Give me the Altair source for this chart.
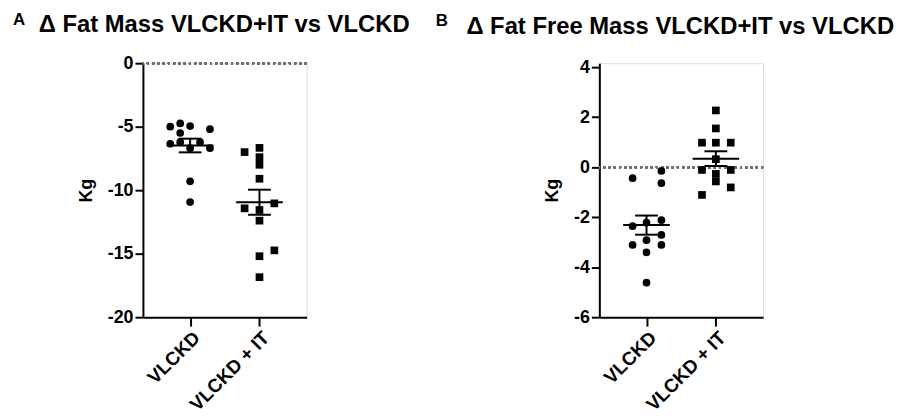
import altair as alt
import pandas as pd

FONT = "Liberation Sans"
groups = ["VLCKD", "VLCKD + IT"]

# Panel A: change in fat mass (kg)
fm_vlckd = [-5.0, -4.74, -4.95, -5.2, -5.5, -6.35, -6.22, -6.69, -6.22, -6.69, -9.3, -10.94]
fm_vlckd_jit = [-20, -10, 0, 20, -10, -20, -10, 0, 10, 20, 0, 0]
fm_it = [-7.0, -6.67, -7.4, -8.0, -9.1, -11.43, -11.04, -11.56, -12.4, -14.74, -15.2, -16.85]
fm_it_jit = [-15, 0, 0, 0, 0, -15, 15, 0, 0, 15, 0, 0]

# Panel B: change in fat free mass (kg)
ffm_vlckd = [-0.44, -0.15, -0.64, -2.36, -2.22, -2.12, -2.71, -2.92, -3.11, -3.11, -3.41, -4.62]
ffm_vlckd_jit = [-14, 15, 15, -14, 0, 15, 15, 0, -14, 15, 0, 0]
ffm_it = [2.27, 1.55, 0.98, 0.98, 0.98, 0.32, -0.11, -0.27, -0.11, -0.57, -0.81, -1.11]
ffm_it_jit = [0, 0, -14, 0, 15, 0, -14, 0, 15, 0, 15, -14]

title_a = "Δ Fat Mass VLCKD+IT vs VLCKD"
title_b = "Δ Fat Free Mass VLCKD+IT vs VLCKD"
ticks_a = [0, -5, -10, -15, -20]
ticks_b = [4, 2, 0, -2, -4, -6]


def frame(a, b, ja, jb):
    return pd.DataFrame({
        "g": [groups[0]] * len(a) + [groups[1]] * len(b),
        "v": a + b,
        "j": ja + jb,
    })


def panel(df, title, letter, dom, ticks, tx, ty, lx, ly):
    base = alt.Chart(df)
    xaxis = alt.Axis(title=None, labelAngle=-45, labelFont=FONT, labelFontSize=19,
                     labelFontWeight="bold", labelColor="black", labelPadding=2,
                     tickSize=9, tickWidth=2, tickColor="black",
                     domainWidth=2, domainColor="black", grid=False)
    xenc = alt.X("g:N", scale=alt.Scale(type="point", domain=groups, padding=0.68), axis=xaxis)
    yscale = alt.Scale(domain=dom, nice=False, zero=False)
    yaxis = alt.Axis(title="Kg", values=ticks, labelExpr="datum.value + ''",
                     labelFont=FONT, labelFontSize=18,
                     labelFontWeight="bold", labelColor="black", labelPadding=2,
                     tickSize=8, tickWidth=2, tickColor="black",
                     domainWidth=2, domainColor="black", grid=False,
                     titleFont=FONT, titleFontSize=18, titleFontWeight="bold",
                     titleColor="black", titlePadding=12)

    zero = base.mark_rule(color="#707070", strokeDash=[2, 3.3], strokeWidth=2).encode(
        y=alt.Y(datum=0, scale=yscale, axis=yaxis)
    )
    pts = base.mark_point(filled=True, opacity=1, color="black", size=60).encode(
        x=xenc,
        xOffset=alt.XOffset("j:Q", scale=None),
        y=alt.Y("v:Q", scale=yscale, axis=yaxis),
        shape=alt.Shape("g:N", scale=alt.Scale(domain=groups, range=["circle", "square"]), legend=None),
    )
    stats = base.transform_aggregate(
        m="mean(v)", s="stderr(v)", groupby=["g"]
    ).transform_calculate(lo="datum.m - datum.s", hi="datum.m + datum.s")
    mean_tick = stats.mark_tick(color="black", thickness=2, size=47, opacity=1).encode(
        x=xenc, y=alt.Y("m:Q", scale=yscale, axis=yaxis)
    )
    sem_rule = stats.mark_rule(color="black", strokeWidth=2).encode(
        x=xenc, y=alt.Y("lo:Q", scale=yscale, axis=yaxis), y2="hi:Q"
    )
    caps = stats.transform_fold(["lo", "hi"], as_=["k", "c"]).mark_tick(
        color="black", thickness=2, size=23, opacity=1
    ).encode(x=xenc, y=alt.Y("c:Q", scale=yscale, axis=yaxis))

    ttl = alt.Chart(pd.DataFrame({"t": [title]})).mark_text(
        font=FONT, fontSize=24, fontWeight="bold", color="black", align="left", baseline="alphabetic"
    ).encode(text="t:N", x=alt.value(tx), y=alt.value(ty))
    let = alt.Chart(pd.DataFrame({"t": [letter]})).mark_text(
        font=FONT, fontSize=17, fontWeight="bold", color="black", align="left", baseline="alphabetic"
    ).encode(text="t:N", x=alt.value(lx), y=alt.value(ly))

    return alt.layer(zero, pts, sem_rule, caps, mean_tick, ttl, let).properties(width=165, height=256)


pa = panel(frame(fm_vlckd, fm_it, fm_vlckd_jit, fm_it_jit), title_a, "A",
           [-20, 0], ticks_a, -105, -31, -131, -38)
pb = panel(frame(ffm_vlckd, ffm_it, ffm_vlckd_jit, ffm_it_jit), title_b, "B",
           [-6, 4.16], ticks_b, -134, -29, -165, -37)

chart = alt.hconcat(pa, pb, spacing=295, bounds="flush").properties(
    padding={"left": 4, "top": 1, "right": 0, "bottom": 0}
).configure_view(stroke=None).configure(background="white")

chart.save("out.html", embed_options={"renderer": "svg", "actions": False})
